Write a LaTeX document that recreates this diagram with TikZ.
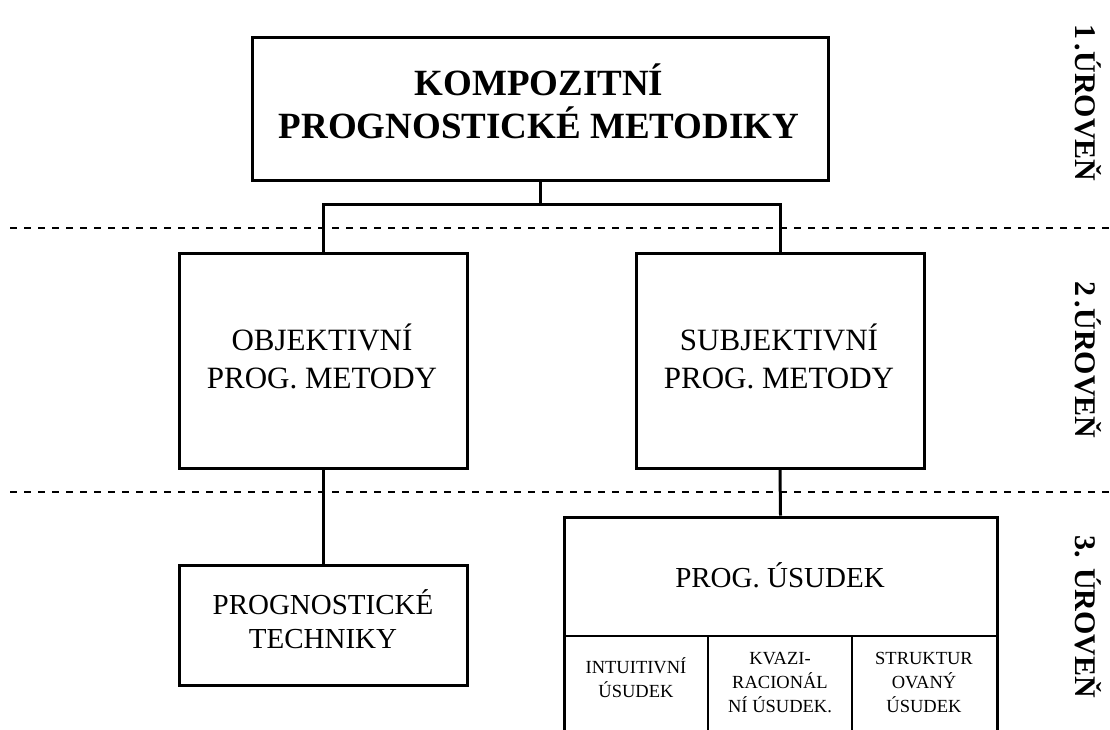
\documentclass[tikz,border=0pt]{standalone}
\usepackage{fontspec}
\setmainfont{Liberation Serif}
\begin{document}
\begin{tikzpicture}[x=1pt,y=-1pt,
  frame/.style={draw, line width=3pt, inner sep=0pt},
  wire/.style={line width=3pt},
  cellline/.style={line width=2pt},
  levelline/.style={line width=1.8pt, dash pattern=on 7pt off 7pt},
  headtext/.style={anchor=base, inner sep=0pt, font=\bfseries\fontsize{37}{43}\selectfont},
  midtext/.style={anchor=base, inner sep=0pt, font=\fontsize{31}{37}\selectfont},
  lowtext/.style={anchor=base, inner sep=0pt, font=\fontsize{29}{35}\selectfont},
  smalltext/.style={anchor=base, inner sep=0pt, font=\fontsize{18.5}{23}\selectfont},
  leveltext/.style={anchor=base, inner sep=0pt, rotate=-90, font=\bfseries\fontsize{30}{36}\selectfont}]

% page area
\clip (0,0) rectangle (1110,729);
\fill[white] (0,0) rectangle (1110,729);

% level separators
\coordinate (sepAl) at (10,228);
\coordinate (sepAr) at (1110,228);
\coordinate (sepBl) at (10,492);
\coordinate (sepBr) at (1110,492);
\draw[levelline] (sepAl) -- (sepAr);
\draw[levelline] (sepBl) -- (sepBr);

% boxes
\node[frame, minimum width=576pt, minimum height=143pt] (top) at (540,108.5) {};
\node[frame, minimum width=288pt, minimum height=215pt] (obj) at (323,360.5) {};
\node[frame, minimum width=288pt, minimum height=215pt] (subj) at (780,360.5) {};
\node[frame, minimum width=288pt, minimum height=120pt] (tech) at (323,625) {};
\node[frame, minimum width=433pt, minimum height=240pt] (usd) at (780.5,637) {};

% cells of the judgement box
\coordinate (divL) at (564,636);
\coordinate (divR) at (997,636);
\coordinate (colA) at (708,636);
\coordinate (colB) at (852,636);
\coordinate (colAb) at (708,740);
\coordinate (colBb) at (852,740);
\draw[cellline] (divL) -- (divR);
\draw[cellline] (colA) -- (colAb);
\draw[cellline] (colB) -- (colBb);

% connectors
\coordinate (bus) at (540,204);
\draw[wire] (top.south) -- (bus);
\draw[wire] (obj.north) |- (bus) -| (subj.north);
\draw[wire] (obj.south) -- (tech.north);
\draw[wire] (subj.south) -- (usd.north);

% texts
\node[headtext] (t1) at (539,95) {KOMPOZITNÍ};
\node[headtext] (t2) at (539,138) {PROGNOSTICKÉ METODIKY};
\node[midtext] (o1) at (322,350) {OBJEKTIVNÍ};
\node[midtext] (o2) at (322,388) {PROG. METODY};
\node[midtext] (s1) at (779,350) {SUBJEKTIVNÍ};
\node[midtext] (s2) at (779,388) {PROG. METODY};
\node[lowtext] (p1) at (323,614) {PROGNOSTICKÉ};
\node[lowtext] (p2) at (323,648) {TECHNIKY};
\node[lowtext] (u1) at (780,587) {PROG. ÚSUDEK};

\node[smalltext] (c11) at (636,673) {INTUITIVNÍ};
\node[smalltext] (c12) at (636,697) {ÚSUDEK};
\node[smalltext] (c21) at (780,664) {KVAZI-};
\node[smalltext] (c22) at (780,688) {RACIONÁL};
\node[smalltext] (c23) at (780,712) {NÍ ÚSUDEK.};
\node[smalltext] (c31) at (924,664) {STRUKTUR};
\node[smalltext] (c32) at (924,688) {OVANÝ};
\node[smalltext] (c33) at (924,712) {ÚSUDEK};

% level labels
\node[leveltext] (lv1) at (1075,103) {1\hspace{0.15em}.ÚROVEŇ};
\node[leveltext] (lv2) at (1075,360) {2\hspace{0.15em}.ÚROVEŇ};
\node[leveltext] (lv3) at (1075,617) {3. ÚROVEŇ};
\end{tikzpicture}
\end{document}
